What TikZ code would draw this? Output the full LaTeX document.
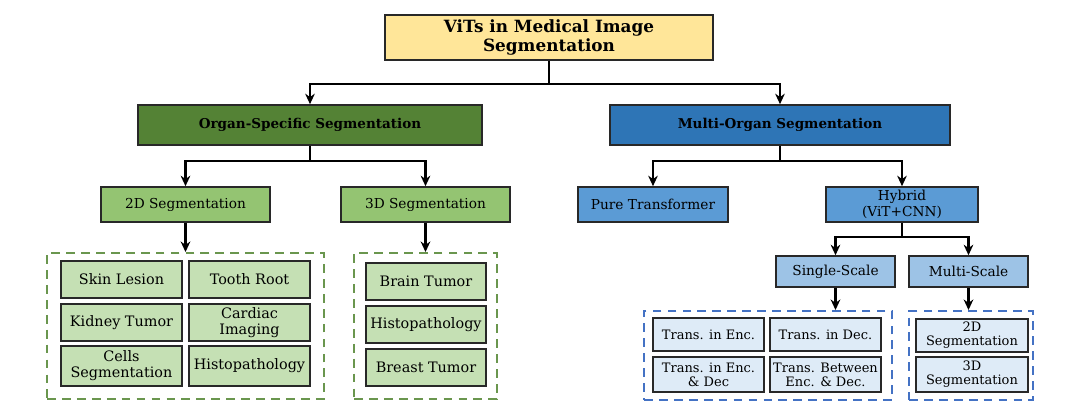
\documentclass[tikz,border=0pt]{standalone}
\usepackage{fontspec}
\setmainfont{DejaVu Serif}
\usepackage{tikz}
\usetikzlibrary{arrows.meta,positioning}
\usepackage{xcolor}
\definecolor{rootyellow}{RGB}{255,230,153}
\definecolor{organgreen}{RGB}{84,130,53}
\definecolor{multiblue}{RGB}{46,117,182}
\definecolor{midgreen}{RGB}{148,196,114}
\definecolor{leafgreen}{RGB}{197,224,180}
\definecolor{midblue}{RGB}{91,155,213}
\definecolor{paleblue}{RGB}{157,195,230}
\definecolor{leafblue}{RGB}{222,235,247}
\definecolor{dashgreen}{RGB}{106,150,78}
\definecolor{dashblue}{RGB}{68,114,196}
\definecolor{boxgray}{RGB}{40,40,40}
\tikzstyle{arrow} = [line width=1.3pt,-{Stealth[length=6pt,width=5.5pt]},color=black]
\tikzstyle{base} = [rectangle, draw=boxgray, line width=0.9pt, text centered, inner sep=1pt, align=center, font=\fontsize{7.8}{8.8}\selectfont]
\tikzstyle{rootbox} = [base, fill=rootyellow, minimum width=6.56cm, minimum height=0.9cm, font=\fontsize{9.6}{11}\selectfont\bfseries]
\tikzstyle{mainbox} = [base, minimum height=0.8cm, font=\fontsize{7.7}{9}\selectfont\bfseries]
\tikzstyle{subbox} = [base, minimum height=0.7cm]
\tikzstyle{scalebox} = [base, fill=paleblue, minimum width=2.38cm, minimum height=0.62cm]
\tikzstyle{greenleaf} = [base, fill=leafgreen, minimum width=2.42cm, minimum height=0.74cm, font=\fontsize{8.2}{9}\selectfont]
\tikzstyle{blueleaf} = [base, fill=leafblue, minimum width=2.22cm, minimum height=0.66cm, font=\fontsize{7.4}{8}\selectfont]
\tikzstyle{groupbox} = [rectangle, line width=1.1pt, dash pattern=on 5pt off 3.5pt, inner sep=0pt]

\begin{document}
\begin{tikzpicture}[x=0.02cm,y=-0.02cm]
\useasboundingbox (0,0) rectangle (1080,418);
% Root
\node (root) [rootbox] at (549,37.5) {ViTs in Medical Image\\Segmentation};

% First level
\node (organ) [mainbox, fill=organgreen, minimum width=6.88cm] at (310,125) {Organ-Specific Segmentation};
\node (multi) [mainbox, fill=multiblue, minimum width=6.8cm] at (780,125) {Multi-Organ Segmentation};
\draw[arrow] (root.south) -- ++(0,23) -| (organ);
\draw[arrow] (root.south) -- ++(0,23) -| (multi);

% Organ-specific branch
\node (seg2d) [subbox, fill=midgreen, minimum width=3.38cm] at (185.5,204.5) {2D Segmentation};
\node (seg3d) [subbox, fill=midgreen, minimum width=3.38cm] at (425.5,204.5) {3D Segmentation};
\draw[arrow] (organ.south) -- ++(0,15) -| (seg2d);
\draw[arrow] (organ.south) -- ++(0,15) -| (seg3d);

% Multi-organ branch
\node (pure) [subbox, fill=midblue, minimum width=3.0cm] at (653,204.5) {Pure Transformer};
\node (hybrid) [subbox, fill=midblue, minimum width=3.04cm] at (902,204.5) {Hybrid\\(ViT+CNN)};
\draw[arrow] (multi.south) -- ++(0,15) -| (pure);
\draw[arrow] (multi.south) -- ++(0,15) -| (hybrid);

\node (single) [scalebox] at (835.5,271.5) {Single-Scale};
\node (multiscale) [scalebox] at (968.5,271.5) {Multi-Scale};
\draw[arrow] (hybrid.south) -- ++(0,14) -| (single);
\draw[arrow] (hybrid.south) -- ++(0,14) -| (multiscale);

% 2D applications
\node (group2d) [groupbox, draw=dashgreen, minimum width=5.54cm, minimum height=2.92cm] at (185.5,326) {};
\draw[arrow] (seg2d) -- (group2d);
\node (skin) [greenleaf] at (121.5,279.5) {Skin Lesion};
\node (tooth) [greenleaf] at (249.5,279.5) {Tooth Root};
\node (kidney) [greenleaf] at (121.5,322.5) {Kidney Tumor};
\node (cardiac) [greenleaf] at (249.5,322.5) {Cardiac\\Imaging};
\node (cells) [greenleaf, minimum height=0.8cm] at (121.5,366) {Cells\\Segmentation};
\node (histo2d) [greenleaf, minimum height=0.8cm] at (249.5,366) {Histopathology};

% 3D applications
\node (group3d) [groupbox, draw=dashgreen, minimum width=2.86cm, minimum height=2.92cm] at (425.5,326) {};
\draw[arrow] (seg3d) -- (group3d);
\node (brain) [greenleaf, minimum width=2.4cm] at (426,281.5) {Brain Tumor};
\node (histo3d) [greenleaf, minimum width=2.4cm] at (426,324.5) {Histopathology};
\node (breast) [greenleaf, minimum width=2.4cm] at (426,367.5) {Breast Tumor};

% Single-scale variants
\node (groupsingle) [groupbox, draw=dashblue, minimum width=4.96cm, minimum height=1.78cm] at (768,355.5) {};
\draw[arrow] (single.south) -- (single.south |- groupsingle.north);
\node (enc) [blueleaf] at (708.5,334.5) {Trans. in Enc.};
\node (dec) [blueleaf] at (825.5,334.5) {Trans. in Dec.};
\node (encdec) [blueleaf, minimum height=0.7cm] at (708.5,374.5) {Trans. in Enc.\\\& Dec};
\node (between) [blueleaf, minimum height=0.7cm] at (825.5,374.5) {Trans. Between\\Enc. \& Dec.};

% Multi-scale variants
\node (groupmulti) [groupbox, draw=dashblue, minimum width=2.48cm, minimum height=1.78cm] at (971,355.5) {};
\draw[arrow] (multiscale.south) -- (multiscale.south |- groupmulti.north);
\node (ms2d) [blueleaf, minimum width=2.24cm] at (972,335.5) {2D\\Segmentation};
\node (ms3d) [blueleaf, minimum width=2.24cm, minimum height=0.7cm] at (972,374.5) {3D\\Segmentation};
\end{tikzpicture}
\end{document}
